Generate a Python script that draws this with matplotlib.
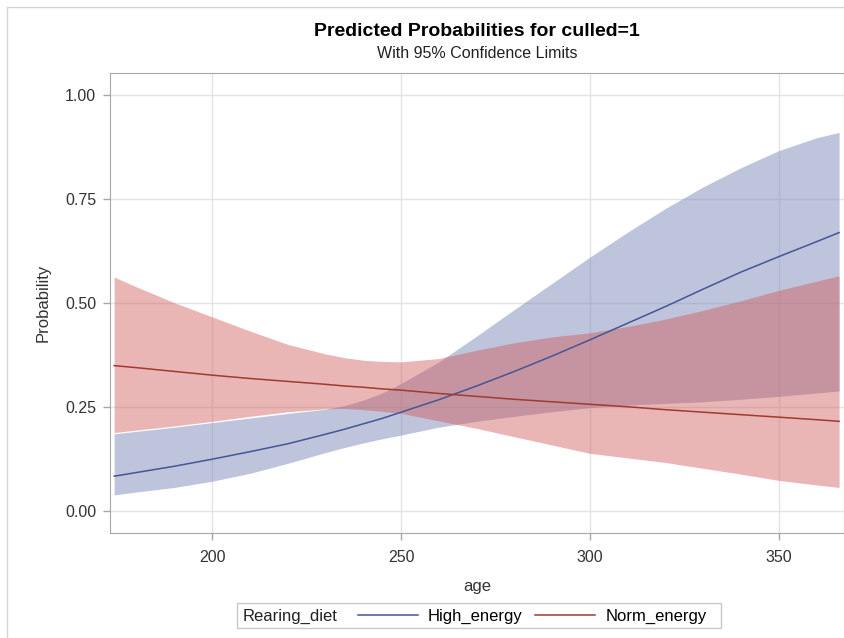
import numpy as np
import matplotlib
matplotlib.use("Agg")
import matplotlib.pyplot as plt
from matplotlib.patches import Rectangle

plt.rcParams['font.family'] = ['Liberation Sans', 'DejaVu Sans']

# Valores
age = [174, 180, 190, 200, 210, 220, 230, 235, 240, 245, 250, 260, 270,
       280, 290, 300, 310, 320, 330, 340, 350, 360, 366]

high_pred = [0.083, 0.092, 0.107, 0.124, 0.142, 0.161, 0.184, 0.196, 0.209, 0.222, 0.237, 0.267, 0.300,
             0.335, 0.372, 0.411, 0.451, 0.491, 0.533, 0.574, 0.611, 0.647, 0.669]
high_upper = [0.185, 0.191, 0.201, 0.212, 0.223, 0.234, 0.244, 0.253, 0.266, 0.283, 0.306, 0.358, 0.420,
              0.484, 0.547, 0.610, 0.670, 0.727, 0.779, 0.825, 0.866, 0.897, 0.910]
high_lower = [0.038, 0.045, 0.056, 0.071, 0.090, 0.114, 0.140, 0.152, 0.163, 0.173, 0.182, 0.201, 0.215,
              0.227, 0.238, 0.248, 0.254, 0.258, 0.262, 0.268, 0.275, 0.283, 0.288]

norm_pred = [0.349, 0.344, 0.335, 0.326, 0.318, 0.311, 0.304, 0.300, 0.297, 0.293, 0.290, 0.282, 0.275,
             0.268, 0.262, 0.256, 0.250, 0.243, 0.237, 0.231, 0.225, 0.219, 0.215]
norm_upper = [0.562, 0.538, 0.500, 0.466, 0.432, 0.400, 0.377, 0.368, 0.362, 0.359, 0.358, 0.366, 0.386,
              0.404, 0.418, 0.428, 0.443, 0.461, 0.482, 0.505, 0.530, 0.552, 0.565]
norm_lower = [0.188, 0.194, 0.204, 0.215, 0.227, 0.238, 0.245, 0.246, 0.243, 0.239, 0.234, 0.216, 0.198,
              0.178, 0.158, 0.138, 0.127, 0.116, 0.102, 0.088, 0.073, 0.062, 0.056]

groups = ["High_energy", "Norm_energy"]
line_colors = ["#445694", "#A23A2E"]
fill_colors = ["#6F7EB3", "#D05B5B"]

fig = plt.figure(figsize=(8.45, 6.38), dpi=100)
ax = fig.add_axes([0.1302, 0.1646, 0.8686, 0.7210])

# Bandas de confiança
ax.fill_between(age, high_lower, high_upper, color=fill_colors[0], alpha=0.45, lw=0, zorder=2)
ax.fill_between(age, norm_lower, norm_upper, color=fill_colors[1], alpha=0.45, lw=0, zorder=3)

# Probabilidades previstas
l1, = ax.plot(age, high_pred, color=line_colors[0], lw=1.1, zorder=4)
l2, = ax.plot(age, norm_pred, color=line_colors[1], lw=1.1, zorder=4)

ax.set_xlim(172.9, 367.3)
ax.set_ylim(-0.0536, 1.0529)
ax.set_xticks([200, 250, 300, 350])
ax.set_yticks([0.0, 0.25, 0.5, 0.75, 1.0])
ax.set_yticklabels(["0.00", "0.25", "0.50", "0.75", "1.00"])
ax.grid(True, color="#E4E4E4", lw=1.0, zorder=0)
ax.set_axisbelow(True)
for s in ax.spines.values():
    s.set_color("#A8A8A8")
ax.tick_params(colors="#A8A8A8", labelcolor="#333333", labelsize=11.5, length=5, width=1)
ax.tick_params(axis="x", pad=7)
ax.tick_params(axis="y", pad=5)
ax.set_xlabel("age", fontsize=12, color="#333333", labelpad=10)
ax.set_ylabel("Probability", fontsize=12, color="#333333", labelpad=10)

fig.text(0.5646, 1 - 32 / 638, "Predicted Probabilities for culled=1",
         ha="center", va="center", fontsize=14, fontweight="bold", color="black")
fig.text(0.5646, 1 - 53 / 638, "With 95% Confidence Limits",
         ha="center", va="center", fontsize=11.5, color="#222222")

# Legenda
W, H = 845.0, 638.0
fig.add_artist(Rectangle((237 / W, 1 - 628 / H), (721 - 237) / W, 25 / H,
                         transform=fig.transFigure, fill=False, ec="#C8C8C8", lw=1))
fig.text(243 / W, 1 - 616 / H, "Rearing_diet", ha="left", va="center",
         fontsize=12, color="#222222")
fig.legend([l1, l2], groups, loc="center left",
           bbox_to_anchor=(358 / W, 1 - 616 / H), bbox_transform=fig.transFigure,
           ncol=2, frameon=False, fontsize=12, handlelength=3.6,
           handletextpad=0.6, columnspacing=0.75, borderpad=0, borderaxespad=0)

# Moldura externa
fig.add_artist(Rectangle((7 / W, -0.05), 1.2, 1 - 7 / H + 0.05,
                         transform=fig.transFigure, fill=False, ec="#D4D4D4", lw=1))

fig.savefig("out.png", dpi=100)
